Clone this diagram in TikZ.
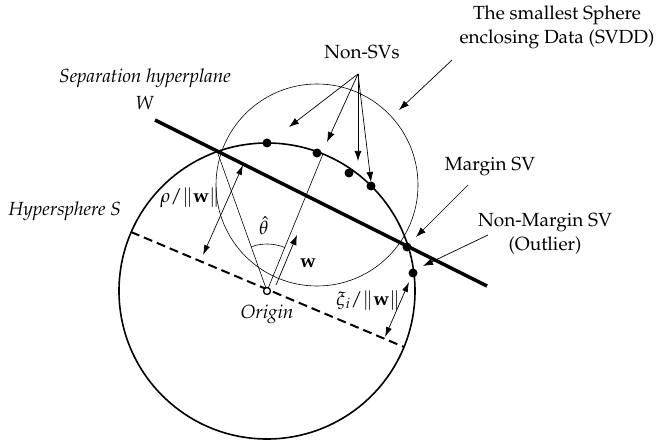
\documentclass[tikz,border=0pt]{standalone}
\usepackage[T1]{fontenc}
\usepackage{mathpazo}
\usetikzlibrary{arrows.meta}

\begin{document}
\begin{tikzpicture}[x=1pt,y=-1pt,
  font=\fontsize{19}{24}\selectfont,
  sv/.style={fill,circle,inner sep=0pt,minimum size=9pt},
  pointer/.style={-{Latex[length=10pt,width=7pt]},line width=0.7pt},
  gap/.style={{Latex[length=10pt,width=6pt]}-{Latex[length=10pt,width=6pt]},line width=0.7pt}]
  \useasboundingbox (0,0) rectangle (662,441);
  % spheres
  \coordinate (O) at (267,291);
  \coordinate (C) at (317,185);
  \draw[line width=1.6pt] (O) circle[radius=148];
  \draw[line width=0.6pt] (C) circle[radius=101];
  % hyperplane and its parallel through the origin
  \coordinate (h1) at (155,120);
  \coordinate (h2) at (487,286);
  \draw[line width=3.5pt] (h1) -- (h2);
  \coordinate (c1) at (131,232);
  \coordinate (c2) at (404,347);
  \draw[line width=2pt,dash pattern=on 9pt off 5pt] (c1) -- (c2);
  % radii and angle
  \coordinate (p1) at (217,151);
  \coordinate (p2) at (323,154);
  \draw[line width=0.6pt] (O) -- (p1);
  \draw[line width=0.6pt] (O) -- (p2);
  \draw[line width=0.6pt] (O) ++(-109.7:47) arc[start angle=-109.7,end angle=-67.8,radius=47];
  \node[inner sep=1pt] (th) at (264,226) {$\hat{\theta}$};
  % normal vector
  \coordinate (w0) at (276,285);
  \coordinate (w1) at (297,235);
  \draw[pointer] (w0) -- (w1);
  \node (wl) at (308,263) {$\mathbf{w}$};
  % origin
  \draw[line width=1.3pt,fill=white] (O) circle[radius=3.5];
  \node (org) at (267,314) {\itshape Origin};
  % data points
  \node[sv] (d1) at (267,143) {};
  \node[sv] (d2) at (317,153) {};
  \node[sv] (d3) at (349,173) {};
  \node[sv] (d4) at (371,186) {};
  \node[sv] (msv) at (407,247) {};
  \node[sv] (out) at (413,273) {};
  % distances
  \coordinate (r0) at (203,255);
  \coordinate (r1) at (243,165);
  \draw[gap] (r0) -- (r1);
  \node (rho) at (190,198) {$\rho/\|\mathbf{w}\|$};
  \coordinate (x0) at (385,337);
  \coordinate (x1) at (409,282);
  \draw[gap] (x0) -- (x1);
  \node (xi) at (368,300) {$\xi_i/\|\mathbf{w}\|$};
  % labels
  \node (svdd) at (557,27) [align=center] {The smallest Sphere\\enclosing Data (SVDD)};
  \node (nsv) at (362,52) {Non-SVs};
  \node (sep) at (145,78) {\itshape Separation hyperplane};
  \node (W) at (145,103) {$W$};
  \node (hs) at (65,211) {\itshape Hypersphere $S$};
  \node (mlab) at (490,167) {Margin SV};
  \node (olab) at (545,234) [align=center] {Non-Margin SV\\(Outlier)};
  % pointers
  \coordinate (src) at (358,74);
  \coordinate (n1) at (289,127);
  \coordinate (n2) at (327,142);
  \coordinate (n3) at (358,161);
  \coordinate (n4) at (371,182);
  \foreach \t in {n1,n2,n3,n4}
    \draw[pointer] (src) -- (\t);
  \coordinate (s0) at (452,60);
  \coordinate (s1) at (399,110);
  \draw[pointer] (s0) -- (s1);
  \coordinate (m0) at (468,185);
  \coordinate (m1) at (416,237);
  \draw[pointer] (m0) -- (m1);
  \coordinate (o0) at (488,235);
  \coordinate (o1) at (423,266);
  \draw[pointer] (o0) -- (o1);
\end{tikzpicture}
\end{document}
